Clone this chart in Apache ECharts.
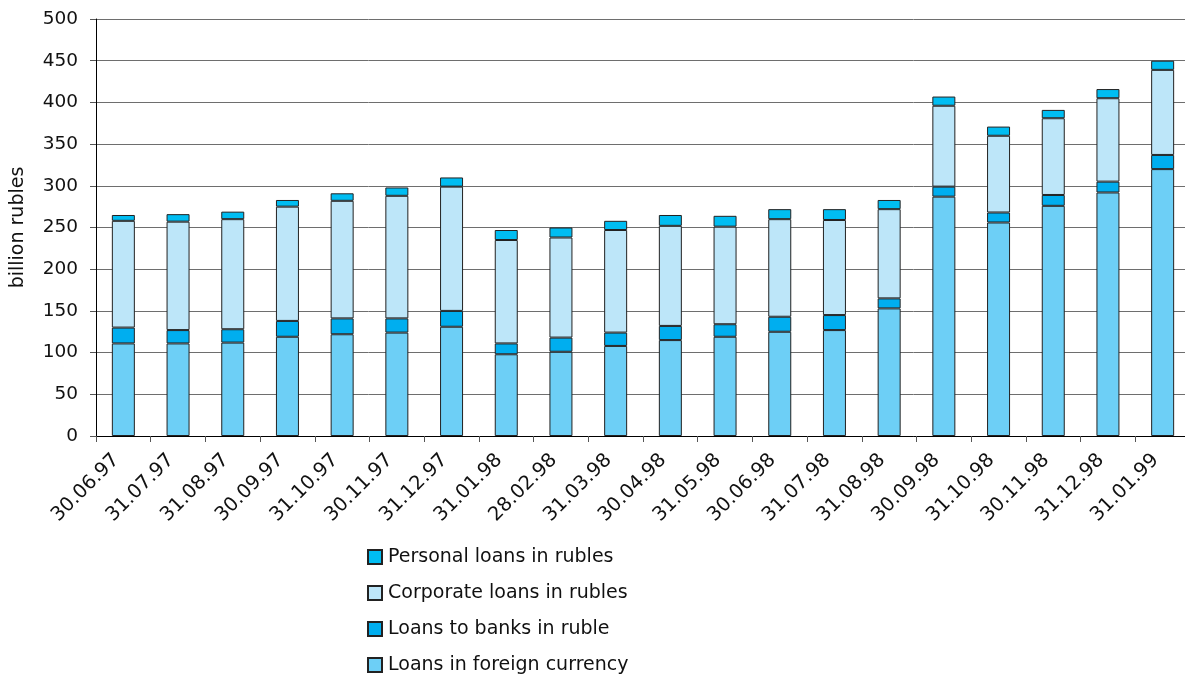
<!DOCTYPE html>
<html>
<head>
<meta charset="utf-8">
<script src="https://cdn.jsdelivr.net/npm/echarts@6/dist/echarts.min.js"></script>
<style>
  html, body { margin: 0; padding: 0; background: #fff; }
  #chart { width: 1185px; height: 677px; }
</style>
</head>
<body>
<div id="chart"></div>
<script>
// Month-end reporting dates
const dates = ['30.06.97','31.07.97','31.08.97','30.09.97','31.10.97','30.11.97','31.12.97',
  '31.01.98','28.02.98','31.03.98','30.04.98','31.05.98','30.06.98','31.07.98','31.08.98',
  '30.09.98','31.10.98','30.11.98','31.12.98','31.01.99'];

// Loan portfolio components, billion rubles
const foreignCurrency = [111,111,112,119,122,124,131,98,101,108,115,119,125,127,153,287,256,276,292,320];
const banksRuble      = [19,16,16,19,19,17,19,13,17,16,17,15,18,18,12,12,12,13,13,17];
const corporateRuble  = [128,130,132,137,141,147,149,124,120,123,120,117,117,114,107,97,92,92,100,102];
const personalRuble   = [7,9,9,8,9,10,11,12,12,11,13,13,12,13,11,11,11,10,11,11];

const yTicks = [0,50,100,150,200,250,300,350,400,450,500];

const FONT = '"DejaVu Sans", sans-serif';
const chart = echarts.init(document.getElementById('chart'), null, { renderer: 'canvas' });

function barSeries(name, data, color) {
  return {
    name: name,
    type: 'bar',
    stack: 'loans',
    data: data,
    barWidth: 23,
    itemStyle: { color: color, borderColor: '#222', borderWidth: 1 },
    emphasis: { disabled: true }
  };
}

chart.setOption({
  animation: false,
  textStyle: { fontFamily: FONT },
  grid: { left: 96, top: 19, width: 1094, height: 417, containLabel: false, outerBoundsMode: 'none' },
  legend: {
    orient: 'vertical',
    left: 367,
    top: 547,
    height: 130,
    padding: 0,
    itemWidth: 14,
    itemHeight: 14,
    itemGap: 16,
    icon: 'rect',
    textStyle: { fontFamily: FONT, fontSize: 19, lineHeight: 20, color: '#111', padding: [0, 0, 0, 1] },
    data: ['Personal loans in rubles','Corporate loans in rubles','Loans to banks in ruble','Loans in foreign currency']
  },
  xAxis: {
    type: 'category',
    data: dates,
    boundaryGap: true,
    axisLine: { lineStyle: { color: '#000', width: 1 } },
    axisTick: { show: true, length: 6, inside: false, lineStyle: { color: '#555' } },
    axisLabel: { rotate: 45, interval: 0, margin: 14, padding: [0, 10, 0, 0], fontSize: 19.5, color: '#111', fontFamily: FONT },
    splitLine: { show: false }
  },
  yAxis: {
    type: 'value',
    min: yTicks[0],
    max: yTicks[yTicks.length - 1],
    interval: yTicks[1] - yTicks[0],
    name: 'billion rubles',
    nameLocation: 'middle',
    nameRotate: 90,
    nameGap: 68,
    nameTextStyle: { fontSize: 19, color: '#111', fontFamily: FONT },
    axisLine: { show: true, lineStyle: { color: '#000', width: 1 } },
    axisTick: { show: true, length: 6, lineStyle: { color: '#555' } },
    axisLabel: { fontSize: 18.5, color: '#111', margin: 18, fontFamily: FONT },
    splitLine: { show: true, lineStyle: { color: '#6e6e6e', width: 1 } }
  },
  series: [
    barSeries('Loans in foreign currency', foreignCurrency, '#6DCFF6'),
    barSeries('Loans to banks in ruble', banksRuble, '#00AEEF'),
    barSeries('Corporate loans in rubles', corporateRuble, '#BDE6F9'),
    barSeries('Personal loans in rubles', personalRuble, '#00BDF2')
  ]
});
</script>
</body>
</html>
